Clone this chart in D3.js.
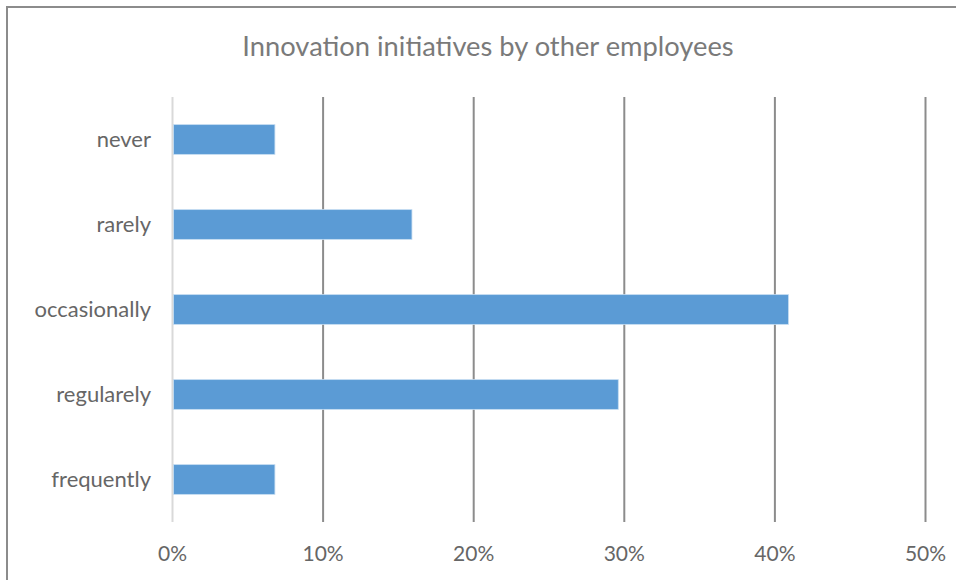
<!DOCTYPE html>
<html lang="en">
  <head>
    <meta charset="UTF-8" />
    <title>Innovation initiatives by other employees</title>
    <style>
      body { margin: 0; background: #fff; }
      svg { display: block; font-family: Lato, 'Open Sans', sans-serif; }
      .grid line { stroke: #8c8c8c; stroke-width: 2; }
      .grid .zero { stroke: #d9d9d9; }
      .label { fill: #666; font-size: 22px; }
      .tick { fill: #666; font-size: 21px; }
    </style>
  </head>
  <body>
    <svg width="956" height="580"></svg>
    <script src="https://d3js.org/d3.v7.min.js"></script>
    <script>
      const categories = ['never', 'rarely', 'occasionally', 'regularely', 'frequently'];
      const values = [6.8, 15.9, 40.9, 29.6, 6.8];
      const ticks = [0, 10, 20, 30, 40, 50];

      const svg = d3.select('svg');

      // outer frame (only top and left edges fall inside the picture)
      svg.append('path')
        .attr('d', 'M7,590V7H970')
        .attr('fill', 'none')
        .attr('stroke', '#8c8c8c')
        .attr('stroke-width', 2);

      svg.append('text')
        .attr('x', 488)
        .attr('y', 56)
        .attr('text-anchor', 'middle')
        .attr('fill', '#7a7a7a')
        .attr('font-size', 27.3)
        .text('Innovation initiatives by other employees');

      const x = d3.scaleLinear().domain([0, 50]).range([172.5, 925.5]);
      const y = d3.scaleBand()
        .domain(categories)
        .range([97, 522])
        .paddingInner(0.65)
        .paddingOuter(0.325);

      const grid = svg.append('g').attr('class', 'grid');
      grid.selectAll('line')
        .data(ticks)
        .join('line')
        .attr('class', (d) => (d === 0 ? 'zero' : null))
        .attr('x1', (d) => x(d))
        .attr('x2', (d) => x(d))
        .attr('y1', 97)
        .attr('y2', 522);

      svg.append('g')
        .selectAll('rect')
        .data(values)
        .join('rect')
        .attr('x', x(0) + 1)
        .attr('y', (d, i) => y(categories[i]))
        .attr('width', (d) => x(d) - x(0) - 1)
        .attr('height', y.bandwidth())
        .attr('fill', '#5b9bd5')
        .attr('stroke', '#c5dcf1')
        .attr('stroke-width', 0.8);

      svg.append('g')
        .selectAll('text')
        .data(categories)
        .join('text')
        .attr('class', 'label')
        .attr('x', 151)
        .attr('y', (d) => y(d) + y.bandwidth() / 2)
        .attr('dy', '0.35em')
        .attr('text-anchor', 'end')
        .text((d) => d);

      svg.append('g')
        .selectAll('text')
        .data(ticks)
        .join('text')
        .attr('class', 'tick')
        .attr('x', (d) => x(d))
        .attr('y', 554)
        .attr('dy', '0.35em')
        .attr('text-anchor', 'middle')
        .text((d) => d + '%');
    </script>
  </body>
</html>
